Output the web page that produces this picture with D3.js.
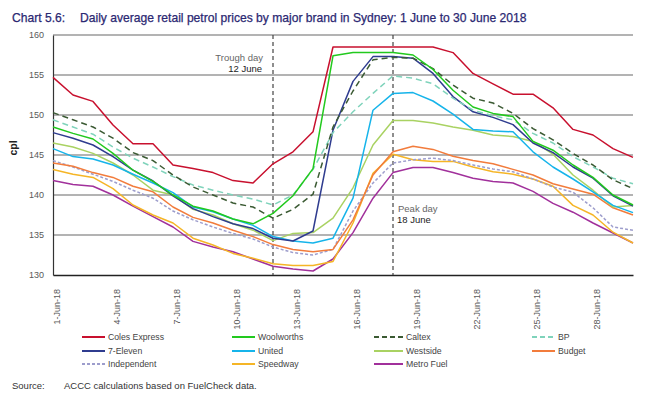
<!DOCTYPE html>
<html><head><meta charset="utf-8">
<script src="https://cdn.jsdelivr.net/npm/d3@7"></script>
<style>
body{margin:0;background:#fff;}
svg{display:block;}
</style></head>
<body>
<svg id="chart" width="649" height="400"></svg>
<script>
const days = [1,2,3,4,5,6,7,8,9,10,11,12,13,14,15,16,17,18,19,20,21,22,23,24,25,26,27,28,29,30];
const tickDays = [1,4,7,10,13,16,19,22,25,28];
const tickLabels = ["1-Jun-18","4-Jun-18","7-Jun-18","10-Jun-18","13-Jun-18","16-Jun-18","19-Jun-18","22-Jun-18","25-Jun-18","28-Jun-18"];
const yTicks = [130,135,140,145,150,155,160];

const colesExpress = [154.7,152.5,151.7,148.75,146.4,146.4,143.75,143.3,142.8,141.8,141.5,143.9,145.4,147.9,158.5,158.5,158.5,158.5,158.5,158.5,157.8,155.2,153.9,152.6,152.6,150.9,148.2,147.5,145.8,144.7];
const woolworths = [148.5,147.7,147.0,145.2,143.1,141.7,140.0,138.6,138.0,137.0,136.4,137.7,139.9,143.3,157.4,157.8,157.8,157.8,157.5,155.7,153.1,151.0,150.2,149.8,146.7,145.6,143.75,142.2,140.0,138.75];
const caltex = [150.3,149.4,148.5,147.1,145.3,144.3,142.5,141.0,140.0,139.0,138.5,137.1,138.2,140.1,148.5,153.0,156.9,157.2,157.1,155.8,153.75,152.1,151.5,150.2,148.3,146.9,145.2,143.75,141.9,140.8];
const bp = [149.4,148.5,147.6,146.0,144.6,143.5,142.3,141.25,140.6,140.0,139.5,138.75,140.0,143.2,147.8,150.4,152.7,154.9,154.6,153.9,152.1,150.6,149.9,149.4,147.7,146.5,144.8,143.5,142.1,141.4];
const sevenEleven = [147.8,147.1,146.25,144.8,143.1,141.75,139.9,138.3,137.3,136.4,135.8,134.6,134.25,135.5,148.1,154.2,157.3,157.3,157.1,155.2,152.3,150.4,149.7,148.8,146.5,145.3,143.5,142.1,139.9,138.6];
const united = [145.8,144.8,144.5,143.75,142.6,141.5,140.3,138.5,137.9,137.0,136.2,134.8,134.25,134.0,134.6,139.6,150.6,152.7,152.8,151.75,150.1,148.2,148.0,147.9,145.4,143.5,142.0,140.4,138.7,137.8];
const westside = [146.5,146.0,145.2,144.0,142.5,140.6,140.0,138.2,137.5,136.4,135.6,134.3,135.2,135.3,137.1,140.9,146.25,149.3,149.3,149.0,148.5,148.1,147.5,147.3,146.7,145.1,142.5,140.6,138.5,138.7];
const budget = [144.0,143.6,142.8,142.2,141.1,140.4,138.5,137.2,136.5,135.6,134.8,133.8,133.2,132.9,133.2,136.9,142.5,145.4,146.1,145.7,144.85,144.3,143.9,143.2,142.5,141.4,140.75,140.1,138.4,137.5];
const independent = [144.3,143.5,142.6,141.7,140.6,139.6,138.0,136.9,136.0,135.2,134.5,133.5,132.8,132.5,133.2,138.0,141.5,144.0,144.4,144.6,144.3,143.75,143.25,142.9,142.0,141.0,140.35,138.4,136.0,135.6];
const speedway = [143.2,142.6,142.2,140.8,138.75,137.5,136.5,134.6,133.75,132.7,132.1,131.4,131.2,131.2,131.7,136.5,142.7,145.1,144.4,144.2,144.2,143.5,142.9,142.6,142.0,141.1,138.7,137.5,135.35,134.0];
const metroFuel = [141.8,141.3,141.1,140.0,138.6,137.3,136.0,134.2,133.5,132.9,132.0,131.1,130.75,130.5,132.0,135.3,139.6,142.8,143.45,143.45,142.8,142.1,141.7,141.5,140.45,138.95,137.85,136.5,135.25,134.0];

const seriesNames = ["Coles Express","Woolworths","Caltex","BP","7-Eleven","United","Westside","Budget","Independent","Speedway","Metro Fuel"];
const seriesValues = [colesExpress,woolworths,caltex,bp,sevenEleven,united,westside,budget,independent,speedway,metroFuel];
const seriesColors = ["#c8102e","#22c91e","#3b5a33","#7fd3bb","#2f3c8f","#16b4ea","#a9d262","#f27c3c","#9d9dcc","#f5b526","#a1309b"];
const seriesDash = [null,null,"6,4","6,4",null,null,null,null,"3,2",null,null];
const legendDash = [null,null,"5,3","5,3",null,null,null,null,"3,2",null,null];

const troughDay = 12, peakDay = 18;

const svg = d3.select("#chart");
const mLeft = 53, mRight = 633, mTop = 35, mBottom = 275;
const x = d3.scaleLinear().domain([1,30]).range([mLeft,mRight]);
const y = d3.scaleLinear().domain([130,160]).range([mBottom,mTop]);

// title
const title = svg.append("text").attr("x",12).attr("y",22)
  .attr("font-family","Liberation Sans, Arial, sans-serif").attr("font-size",12.1)
  .attr("fill","#2b2872").attr("stroke","#2b2872").attr("stroke-width",0.25);
title.append("tspan").text("Chart 5.6:");
title.append("tspan").attr("x",80).text("Daily average retail petrol prices by major brand in Sydney: 1 June to 30 June 2018");

// gridlines
svg.append("g").selectAll("line").data(yTicks.filter(d=>d>130)).join("line")
  .attr("x1",mLeft).attr("x2",mRight).attr("y1",d=>y(d)).attr("y2",d=>y(d))
  .attr("stroke","#9a9a9a").attr("stroke-width",1.3);

// y axis
const yAxis = svg.append("g").attr("transform",`translate(${mLeft},0)`)
  .call(d3.axisLeft(y).tickValues(yTicks).tickSize(0).tickPadding(9));
yAxis.select(".domain").attr("stroke","#333").attr("stroke-width",1.2);
yAxis.selectAll("text").attr("font-family","Liberation Sans, Arial, sans-serif").attr("font-size",9).attr("fill","#595959");

// x axis
const xAxis = svg.append("g").attr("transform",`translate(0,${mBottom})`)
  .call(d3.axisBottom(x).tickValues(tickDays).tickFormat((d,i)=>tickLabels[i]).tickSize(0));
xAxis.select(".domain").attr("stroke","#222").attr("stroke-width",1.4);
xAxis.selectAll("text")
  .attr("font-family","Liberation Sans, Arial, sans-serif").attr("font-size",9).attr("fill","#595959")
  .attr("text-anchor","end").attr("transform","rotate(-90)")
  .attr("x",-14).attr("y",3).attr("dy","0.35em");

// y label
svg.append("text").attr("transform","translate(17,148) rotate(-90)")
  .attr("text-anchor","middle").attr("font-family","Liberation Sans, Arial, sans-serif")
  .attr("font-size",10.5).attr("font-weight","bold").attr("fill","#222").text("cpl");

// vertical marker lines
svg.append("g").selectAll("line").data([troughDay,peakDay]).join("line")
  .attr("x1",d=>x(d)).attr("x2",d=>x(d)).attr("y1",mTop).attr("y2",mBottom)
  .attr("stroke","#444").attr("stroke-width",1.2).attr("stroke-dasharray","4,3");

// series lines
const line = d3.line().x((d,i)=>x(days[i])).y(d=>y(d));
const order = [10,9,8,7,6,5,4,3,2,1,0];
svg.append("g").selectAll("path").data(order).join("path")
  .attr("d",i=>line(seriesValues[i]))
  .attr("fill","none").attr("stroke",i=>seriesColors[i]).attr("stroke-width",1.5)
  .attr("stroke-dasharray",i=>seriesDash[i]).attr("stroke-linejoin","round");

// annotations
const ann = svg.append("g").attr("font-family","Liberation Sans, Arial, sans-serif").attr("font-size",9.5);
ann.append("text").attr("x",x(troughDay)-10).attr("y",61).attr("text-anchor","end").attr("fill","#666").text("Trough day");
ann.append("text").attr("x",x(troughDay)-11).attr("y",72).attr("text-anchor","end").attr("fill","#222").text("12 June");
ann.append("text").attr("x",x(peakDay)+5).attr("y",212).attr("fill","#666").text("Peak day");
ann.append("text").attr("x",x(peakDay)+4).attr("y",223).attr("fill","#222").text("18 June");

// legend
const legendLayout = [
  {i:0,col:0,row:0},{i:1,col:1,row:0},{i:2,col:2,row:0},{i:3,col:3,row:0},
  {i:4,col:0,row:1},{i:5,col:1,row:1},{i:6,col:2,row:1},{i:7,col:3,row:1},
  {i:8,col:0,row:2},{i:9,col:1,row:2},{i:10,col:2,row:2}
];
const colX = [82,232,374,532], colW = [23,23,29,23];
const rowY = [337,351,364];
const lg = svg.append("g").selectAll("g").data(legendLayout).join("g")
  .attr("transform",d=>`translate(${colX[d.col]},${rowY[d.row]})`);
lg.append("line").attr("x1",0).attr("x2",d=>colW[d.col]).attr("y1",0).attr("y2",0)
  .attr("stroke",d=>seriesColors[d.i]).attr("stroke-width",2)
  .attr("stroke-dasharray",d=>legendDash[d.i]);
lg.append("text").attr("x",d=>colW[d.col]+3).attr("y",0).attr("dy","0.35em")
  .attr("font-family","Liberation Sans, Arial, sans-serif").attr("font-size",8.7).attr("fill","#444")
  .text(d=>seriesNames[d.i]);

// source
const src = svg.append("g").attr("font-family","Liberation Sans, Arial, sans-serif").attr("font-size",9.5).attr("fill","#333");
src.append("text").attr("x",12).attr("y",389).text("Source:");
src.append("text").attr("x",64).attr("y",389).text("ACCC calculations based on FuelCheck data.");
</script>
</body></html>
